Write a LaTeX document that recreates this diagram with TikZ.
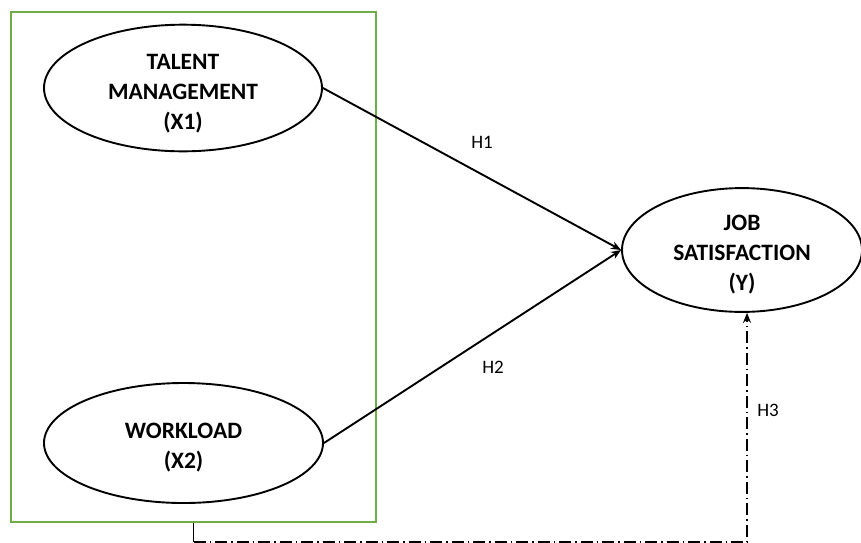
\documentclass[tikz,border=0pt]{standalone}
\usepackage{fontspec}
\setmainfont{Carlito}
\usetikzlibrary{shapes.geometric,arrows.meta}
\definecolor{boxgreen}{HTML}{70AD47}
\newcommand{\lift}[1]{\rule{0pt}{#1}}
\tikzset{
  >={Stealth[length=10pt,width=8pt]},
  var/.style={draw,ellipse,line width=1.9pt,inner sep=0pt,align=center,
    font=\fontsize{23.5}{30}\selectfont\bfseries},
  hyp/.style={font=\fontsize{19}{22}\selectfont}
}
\begin{document}
\begin{tikzpicture}[x=1pt,y=-1pt]
      \useasboundingbox (0,0) rectangle (861,542);
      \node[draw=boxgreen,line width=2.2pt,minimum width=365pt,minimum height=510pt]
      (grp) at (193.5,267) {};
      \node[var,minimum width=278pt,minimum height=115pt] (tm) at (183,88)
      {\lift{26pt}TALENT\\MANAGEMENT\\(X1)};
      \node[var,minimum width=279pt,minimum height=120pt] (wl) at (183.5,443)
      {\lift{24pt}WORKLOAD\\(X2)};
      \node[var,minimum width=240pt,minimum height=114pt] (js) at (742,250)
      {\lift{24pt}JOB\\SATISFACTION\\(Y)};
      \draw[->,line width=1.9pt] (tm.east)--(js.west);
      \draw[->,line width=1.9pt] (wl.east)--(js.west);
      \coordinate (top) at ([xshift=5pt]js.south);
      \draw[line width=1.9pt] (grp.south)--++(0,19) coordinate (low);
      \draw[->,line width=1.9pt,dash pattern=on 12pt off 4pt on 1.5pt off 4pt]
      (low)--(low -| top) coordinate (turn)--(top);
      \node[hyp] (h1) at (482,142) {H1};
      \node[hyp] (h2) at (493,367) {H2};
      \node[hyp] (h3) at (768,410) {H3};
    \end{tikzpicture}
\end{document}
